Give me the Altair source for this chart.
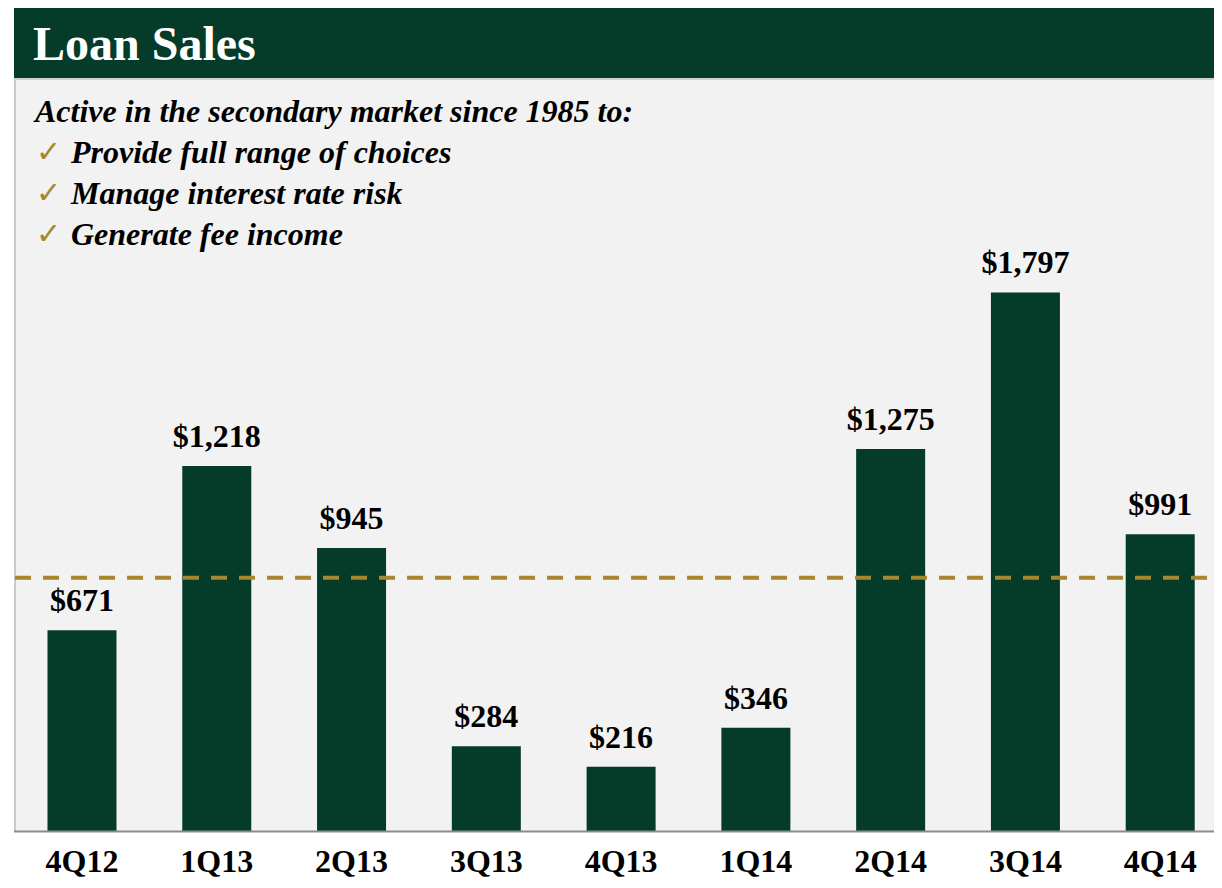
import altair as alt
import pandas as pd

quarters = ["4Q12", "1Q13", "2Q13", "3Q13", "4Q13", "1Q14", "2Q14", "3Q14", "4Q14"]
loan_sales = [671, 1218, 945, 284, 216, 346, 1275, 1797, 991]
labels = ["$671", "$1,218", "$945", "$284", "$216", "$346", "$1,275", "$1,797", "$991"]
reference_level = [846]
title_text = "Loan Sales"
intro_text = "Active in the secondary market since 1985 to:"
bullets = ["Provide full range of choices", "Manage interest rate risk", "Generate fee income"]

GREEN = "#053b29"
GOLD = "#a8862a"
PANEL = "#f2f2f2"
SERIF = "Liberation Serif"

df = pd.DataFrame({"q": quarters, "v": loan_sales, "lab": labels, "base": [0] * len(quarters)})
ref = pd.DataFrame({"v": reference_level})

W, H = 1206, 872
BASE_Y = 823.5
PX_PER_UNIT = 0.3
y_top = BASE_Y / PX_PER_UNIT
y_bottom = (BASE_Y - H) / PX_PER_UNIT

x_scale = alt.Scale(domain=quarters, range=[6.6, 1219.6], paddingInner=0.488, paddingOuter=0.244)
y_scale = alt.Scale(domain=[y_bottom, y_top], nice=False, zero=False)
x_enc = alt.X("q:N", scale=x_scale, axis=None, sort=quarters)
base = alt.Chart(df)
one = alt.Chart(pd.DataFrame({"d": [0]}))

panel = one.mark_rect(color=PANEL).encode(
    x=alt.value(6), x2=alt.value(W), y=alt.value(72), y2=alt.value(BASE_Y))
panel_edge = one.mark_rule(color="#c9c9c9", strokeWidth=2).encode(
    x=alt.value(7), y=alt.value(72), y2=alt.value(BASE_Y))
header = one.mark_rect(color=GREEN).encode(
    x=alt.value(6), x2=alt.value(W), y=alt.value(0), y2=alt.value(70))
header_edge = one.mark_rule(color="#cfcfcf", strokeWidth=2).encode(
    x=alt.value(6), x2=alt.value(W), y=alt.value(71))
header_text = one.mark_text(text=title_text, font=SERIF, fontSize=48, fontWeight="bold",
                            color="white", align="left", baseline="alphabetic").encode(
    x=alt.value(25), y=alt.value(52))

intro = one.mark_text(text=intro_text, font=SERIF, fontSize=32, fontWeight="bold",
                      fontStyle="italic", color="black", align="left", baseline="alphabetic").encode(
    x=alt.value(27), y=alt.value(114))
layers_text = [intro]
for i, b in enumerate(bullets):
    yb = 155 + 41 * i
    layers_text.append(one.mark_text(text="\u2713", font="DejaVu Sans", fontSize=30, color=GOLD,
                                     align="left", baseline="alphabetic").encode(
        x=alt.value(28), y=alt.value(yb - 1)))
    layers_text.append(one.mark_text(text=b, font=SERIF, fontSize=32, fontWeight="bold",
                                     fontStyle="italic", color="black", align="left",
                                     baseline="alphabetic").encode(
        x=alt.value(63), y=alt.value(yb)))

bars = base.mark_bar(color=GREEN).encode(
    x=x_enc, y=alt.Y("v:Q", scale=y_scale, axis=None), y2="base:Q")

dash = alt.Chart(ref).mark_rule(color=GOLD, strokeWidth=4, strokeDash=[16, 12]).encode(
    y=alt.Y("v:Q", scale=y_scale), x=alt.value(7), x2=alt.value(W))

baseline = alt.Chart(pd.DataFrame({"z": [0]})).mark_rule(color="#8c8c8c", strokeWidth=2).encode(
    y=alt.Y("z:Q", scale=y_scale), x=alt.value(6), x2=alt.value(W))

value_labels = base.mark_text(font=SERIF, fontSize=32, fontWeight="bold", color="black",
                              baseline="alphabetic", dy=-19).encode(
    x=x_enc, y=alt.Y("v:Q", scale=y_scale), text="lab:N")

cat_labels = base.mark_text(font=SERIF, fontSize=32, fontWeight="bold", color="black",
                            baseline="alphabetic").encode(
    x=x_enc, y=alt.value(864), text="q:N")

chart = alt.layer(
    panel, panel_edge, header, header_edge, header_text, *layers_text,
    bars, dash, baseline, value_labels, cat_labels
).properties(
    width=W, height=H, autosize=alt.AutoSizeParams(type="none"), padding=0
).configure_view(stroke=None).resolve_scale(x="shared", y="shared")

chart.save("out.html", embed_options={"renderer": "svg", "actions": False})
